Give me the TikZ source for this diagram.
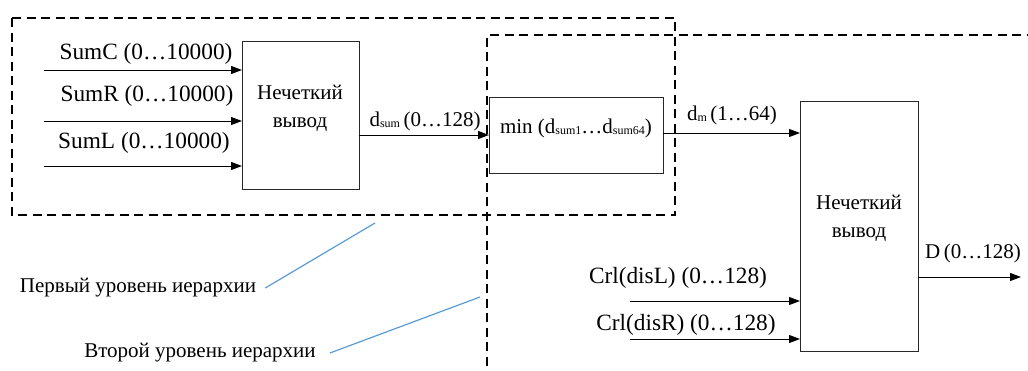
\documentclass[tikz,border=0pt]{standalone}
\usepackage{fontspec}
\setmainfont{Liberation Serif}
\usetikzlibrary{arrows.meta}
\definecolor{callout}{RGB}{91,155,213}
\definecolor{boxline}{RGB}{40,40,40}
\newcommand{\subs}[1]{\raisebox{-1.5pt}{\fontsize{12}{12}\selectfont #1}}
\tikzset{
  lbl/.style={inner sep=0pt, font=\fontsize{21}{28}\selectfont},
  biglbl/.style={inner sep=0pt, font=\fontsize{23.3}{28}\selectfont},
  fbox/.style={draw=boxline, line width=1pt, inner sep=0pt, anchor=north west},
  arr/.style={line width=1pt, -{Triangle[length=11pt,width=8pt]}},
  level/.style={line width=2.6pt, dash pattern=on 9pt off 5.5pt},
  note/.style={draw=callout, line width=1.2pt}
}
\begin{document}
\begin{tikzpicture}[x=1pt,y=-1pt]
\useasboundingbox (0,0) rectangle (1028,370);
\clip (0,0) rectangle (1028,370);
% hierarchy levels
\draw[level] (12,18) rectangle (675,215);
\draw[level] (487,380) -- (487,35) -- (1040,35);
% boxes
\node[fbox, minimum width=117pt, minimum height=148pt] (F1) at (242,41) {};
\node[fbox, minimum width=174pt, minimum height=76pt] (M) at (489,97) {};
\node[fbox, minimum width=118pt, minimum height=250pt] (F2) at (800,101) {};
% box texts
\node[lbl, align=center] (t1) at (300,108) {Нечеткий\\вывод};
\node[lbl] (tm) at (576,128) {min (d\subs{sum1}…d\subs{sum64})};
\node[lbl, align=center] (t2) at (859,218) {Нечеткий\\вывод};
% inputs of first box
\coordinate (s1) at (44,70);
\coordinate (s2) at (44,121);
\coordinate (s3) at (44,166);
\draw[arr] (s1) -- (s1 -| F1.west);
\draw[arr] (s2) -- (s2 -| F1.west);
\draw[arr] (s3) -- (s3 -| F1.west);
\node[biglbl] (l1) at (146,54) {SumC (0…10000)};
\node[biglbl] (l2) at (147,96) {SumR (0…10000)};
\node[biglbl] (l3) at (144,143) {SumL (0…10000)};
% first box -> min
\coordinate (o1) at (359,135);
\draw[arr] (o1) -- (o1 -| M.west);
\node[lbl] (ld) at (425,121) {d\subs{sum}\,(0…128)};
% min -> second fuzzy box
\coordinate (o2) at (663,133);
\draw[arr] (o2) -- (o2 -| F2.west);
\node[lbl] (lm) at (732,115) {d\subs{m}\,(1…64)};
% crl inputs
\coordinate (c1) at (630,301);
\coordinate (c2) at (630,339);
\draw[arr] (c1) -- (c1 -| F2.west);
\draw[arr] (c2) -- (c2 -| F2.west);
\node[biglbl] (lc1) at (678,278) {Crl(disL) (0…128)};
\node[biglbl] (lc2) at (686,325) {Crl(disR) (0…128)};
% output
\coordinate (o3) at (918,277);
\coordinate (e3) at (1021,277);
\draw[arr] (o3) -- (e3);
\node[lbl] (lD) at (973,253) {D\,(0…128)};
% callouts
\node[lbl] (n1) at (138,288) {Первый уровень иерархии};
\node[lbl] (n2) at (200,353) {Второй уровень иерархии};
\coordinate (p1) at (375,223);
\coordinate (p2) at (480,297);
\draw[note] (p1) -- ([xshift=9pt]n1.east);
\draw[note] (p2) -- ([xshift=14pt]n2.east);
\end{tikzpicture}
\end{document}
